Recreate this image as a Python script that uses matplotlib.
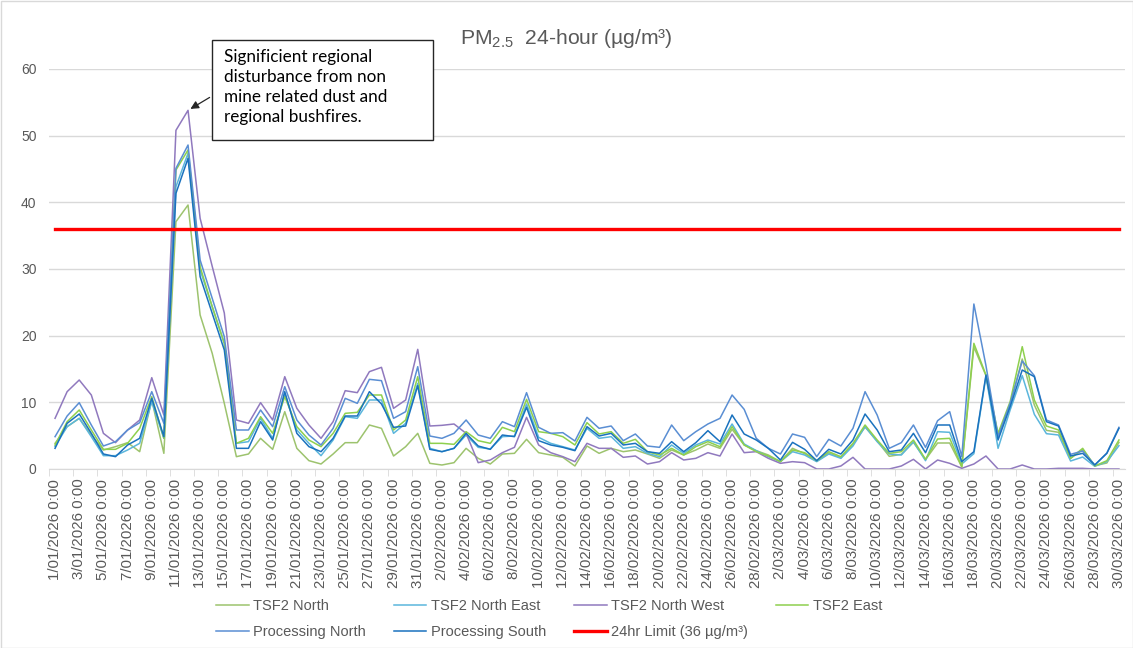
import numpy as np
import pandas as pd
import matplotlib
matplotlib.use("Agg")
from matplotlib import pyplot as plt
from matplotlib.patches import Rectangle

plt.rcParams['font.family'] = ['Liberation Sans', 'DejaVu Sans']
plt.rcParams['mathtext.fontset'] = 'custom'
plt.rcParams['mathtext.rm'] = 'Liberation Sans'

# daily categories 1/01/2026 .. 30/03/2026
dates = pd.date_range("2026-01-01", "2026-03-30", freq="D")
labels = [f"{d.day}/{d.month:02d}/{d.year} 0:00" for d in dates]

tsf2_north = [3.85, 6.35, 7.6, 5.1, 2.85, 3.35, 3.95, 2.6, 10.35, 2.35, 37.1, 39.6, 23.1, 17.35, 9.85, 1.85, 2.25, 4.6, 2.95, 8.6,
              3.1, 1.25, 0.75, 2.25, 3.95, 3.95, 6.6, 6.1, 1.95, 3.35, 5.35, 0.85, 0.6, 0.95,
              3.1, 1.6, 0.75, 2.25, 2.35, 4.45, 2.45, 2.1, 1.75, 0.45, 3.45, 2.35, 3.1, 2.6, 2.85, 2.25, 1.6, 2.85, 2.1, 2.85,
              3.75, 3.1, 5.95, 3.6, 2.75, 2.1, 1.1, 3.1,
              2.3, 1.2, 2.4, 1.7, 3.7, 6.3, 4.2, 1.9, 2.2, 4.0, 1.4, 3.9, 3.9, 0.3, 18.3, 14.0, 5.0, 9.6, 16.5, 9.6, 5.8, 5.5,
              1.6, 2.9, 0.5, 0.9, 4.0]
tsf2_north_east = [3.4, 6.35, 7.6, 4.85, 2.0, 2.0, 2.85, 3.85, 10.1, 4.6, 42.35, 47.35, 29.85, 24.35, 18.85, 3.85, 4.1, 7.6, 4.6, 11.35,
                   5.85, 3.85, 2.0, 4.35, 7.85, 7.6, 10.35, 10.35, 5.35, 6.85, 12.85, 3.1, 2.6, 3.1,
                   5.1, 3.25, 3.0, 4.85, 4.95, 9.75, 4.75, 3.85, 3.35, 2.85, 6.1, 4.6, 4.85, 3.1, 3.35, 2.35, 1.85, 3.6, 2.35, 3.6,
                   4.35, 3.75, 6.75, 3.75, 2.75, 1.85, 1.1, 2.6,
                   2.1, 1.1, 2.25, 1.6, 3.45, 6.35, 4.1, 2.25, 2.1, 4.1, 1.25, 5.6, 5.5, 0.75, 2.3, 13.9, 3.1, 8.85, 14.0, 8.2, 5.3, 5.1,
                   1.2, 1.8, 0.4, 1.1, 3.5]
tsf2_north_west = [7.6, 11.6, 13.35, 11.1, 5.35, 3.95, 5.85, 7.35, 13.7, 8.1, 50.8, 53.8, 37.6, 30.4, 23.4, 7.35, 6.85, 9.95, 7.35, 13.85,
                   9.1, 6.6, 4.6, 7.1, 11.75, 11.45, 14.6, 15.25, 9.1, 10.35, 17.95, 6.45, 6.55, 6.75,
                   5.35, 0.95, 1.35, 2.45, 3.25, 7.75, 3.6, 2.45, 1.85, 1.1, 3.85, 3.1, 3.1, 1.75, 1.95, 0.75, 1.1, 2.45, 1.35, 1.6,
                   2.45, 1.95, 5.25, 2.45, 2.6, 1.6, 0.85, 1.1,
                   0.95, 0.0, 0.0, 0.45, 1.75, 0.0, 0.0, 0.0, 0.45, 1.45, 0.0, 1.35, 0.85, 0.1, 0.75, 1.95, 0.0, 0.0, 0.6, 0.0, 0.0, 0.1,
                   0.1, 0.1, 0.0, 0.0, 0.0]
tsf2_east = [3.6, 7.1, 8.85, 5.85, 2.95, 2.95, 3.85, 6.1, 10.85, 4.6, 44.85, 47.85, 30.35, 24.35, 18.85, 3.85, 4.6, 7.85, 5.35, 10.85,
             6.35, 4.35, 3.35, 5.35, 8.35, 8.5, 11.1, 11.1, 5.85, 7.35, 13.85, 3.85, 3.85, 3.7,
             5.6, 4.25, 3.85, 6.25, 5.6, 10.45, 5.6, 5.35, 4.85, 3.6, 6.95, 5.25, 5.6, 3.85, 4.45, 2.6, 2.1, 3.1, 2.1, 3.35,
             4.1, 3.35, 6.35, 3.6, 2.6, 1.95, 1.1, 2.85,
             2.45, 1.25, 2.6, 1.85, 3.85, 6.6, 4.35, 2.35, 2.6, 4.35, 1.45, 4.5, 4.6, 0.35, 18.85, 14.1, 5.35, 10.1, 18.35, 10.35, 6.45, 5.85,
             1.6, 3.1, 0.45, 1.25, 4.35]
processing_north = [4.85, 7.95, 9.95, 6.6, 3.45, 4.1, 5.85, 6.95, 11.6, 6.85, 45.1, 48.6, 31.35, 25.6, 19.85, 5.85, 5.85, 8.85, 6.35, 12.35,
                    7.35, 5.1, 3.6, 6.1, 10.6, 9.85, 13.45, 13.25, 7.6, 8.6, 15.35, 4.95, 4.6, 5.35,
                    7.35, 5.1, 4.6, 7.1, 6.35, 11.45, 6.25, 5.35, 5.45, 4.2, 7.75, 6.1, 6.45, 4.25, 5.25, 3.45, 3.25, 6.6, 4.25, 5.6,
                    6.75, 7.6, 11.1, 8.95, 4.6, 3.1, 2.25, 5.25,
                    4.75, 1.85, 4.45, 3.45, 6.1, 11.6, 8.1, 3.1, 3.95, 6.6, 3.25, 7.25, 8.6, 1.85, 24.75, 15.5, 4.85, 9.85, 16.2, 14.0, 7.35, 6.6,
                    2.2, 2.7, 0.6, 2.4, 6.25]
processing_south = [3.1, 6.85, 8.25, 5.35, 2.25, 1.85, 3.6, 4.6, 10.6, 4.85, 41.35, 46.6, 28.85, 23.35, 17.85, 3.1, 3.1, 7.1, 4.35, 11.6,
                    5.35, 3.35, 2.6, 4.6, 7.95, 7.95, 11.6, 9.75, 6.25, 6.45, 12.5, 2.95, 2.6, 3.1,
                    5.35, 3.45, 2.95, 5.1, 4.85, 9.25, 4.25, 3.6, 3.25, 2.75, 6.35, 4.95, 5.35, 3.6, 3.85, 2.6, 2.35, 4.1, 2.6, 3.95,
                    5.75, 4.1, 8.1, 5.25, 4.35, 3.1, 1.35, 4.0,
                    2.95, 1.25, 2.95, 2.25, 4.35, 8.25, 5.85, 2.6, 2.85, 5.35, 2.45, 6.6, 6.6, 1.1, 2.6, 14.1, 4.35, 9.35, 14.85, 13.85, 7.1, 6.45,
                    1.95, 2.35, 0.6, 2.35, 6.1]
limit = [36] * len(dates)

series = [
    ("TSF2 North", tsf2_north, "#9DC36E"),
    ("TSF2 North East", tsf2_north_east, "#5BB6DC"),
    ("TSF2 North West", tsf2_north_west, "#9079BE"),
    ("TSF2 East", tsf2_east, "#8ED04E"),
    ("Processing North", processing_north, "#5A8ED3"),
    ("Processing South", processing_south, "#1A72BE"),
]

W, H = 1133, 648
fig = plt.figure(figsize=(W / 100, H / 100), dpi=100)
ax = fig.add_axes([49 / W, 1 - 469 / H, (1125 - 49) / W, 400 / H])

x = np.arange(len(dates))
handles = []
for name, vals, col in series:
    h, = ax.plot(x, vals, color=col, lw=1.1, label=name)
    handles.append(h)
h, = ax.plot(x, limit, color="#FF0000", lw=2.4, label="24hr Limit (36 µg/m³)")
handles.append(h)

ax.set_xlim(-0.5, len(dates) - 0.5)
ax.set_ylim(0, 60)
ax.set_yticks(range(0, 61, 10))
ax.yaxis.grid(True, color="#D9D9D9", lw=1)
ax.set_axisbelow(True)
for s in ["top", "right", "left"]:
    ax.spines[s].set_visible(False)
ax.spines["bottom"].set_color("#D9D9D9")
ax.tick_params(axis="y", length=0, pad=9, labelsize=10, labelcolor="#595959")

ax.set_xticks(x[::2])
ax.set_xticklabels(labels[::2], rotation=90, fontsize=10.8, color="#595959")
ax.set_xticks(np.arange(-0.5, len(dates), 2), minor=True)
ax.tick_params(axis="x", which="major", length=0, pad=7)
ax.tick_params(axis="x", which="minor", length=5, color="#D9D9D9")

fig.text(0.5, 1 - 38 / H, r"PM$_{\mathrm{2.5}}$  24-hour (µg/m³)", ha="center", va="center",
         fontsize=15.2, color="#595959")

# annotation box
fig.patches.append(Rectangle((212 / W, 1 - 140 / H), 221 / W, 100 / H, transform=fig.transFigure,
                             facecolor="white", edgecolor="#262626", lw=1, zorder=5))
fig.text(224 / W, 1 - 49 / H, "Significient regional\ndisturbance from non\nmine related dust and\nregional bushfires.",
         ha="left", va="top", fontsize=12.3, family="Lato", color="black", linespacing=1.3, zorder=6)
ax.annotate("", xy=(11, 53.8), xycoords="data", xytext=(212, H - 96), textcoords="figure pixels",
            arrowprops=dict(arrowstyle="-|>", color="#262626", lw=0.9, mutation_scale=12), zorder=6)

order = [0, 4, 1, 5, 2, 6, 3]
fig.legend([handles[i] for i in order], [handles[i].get_label() for i in order],
           loc="upper left", bbox_to_anchor=(216 / W, 1 - 599 / H), ncol=4, frameon=False,
           fontsize=10.5, labelcolor="#595959", handlelength=2.25, handletextpad=0.3,
           columnspacing=1.9, borderpad=0, borderaxespad=0, labelspacing=0.85)

fig.patches.append(Rectangle((0.5 / W, 0.5 / H), (W - 1) / W, (H - 1) / H, transform=fig.transFigure,
                             facecolor="none", edgecolor="#D9D9D9", lw=1))

fig.savefig("out.png", dpi=100)
